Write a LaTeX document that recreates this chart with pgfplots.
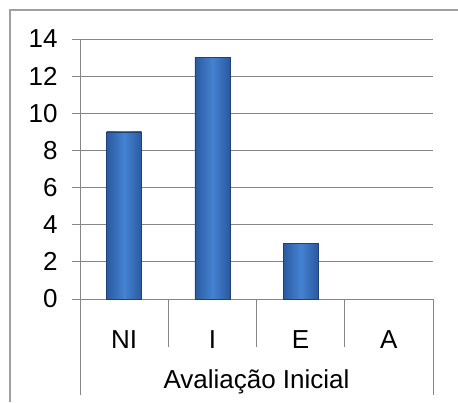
\documentclass[border=0pt]{standalone}
\usepackage{pgfplots}
\pgfplotsset{compat=1.18}
\usepackage{fontspec}
\setmainfont{Liberation Sans}
\definecolor{barmid}{RGB}{68,130,210}
\definecolor{baredge}{RGB}{42,90,160}
\definecolor{barline}{RGB}{30,66,120}
\definecolor{gridc}{RGB}{134,134,134}
\definecolor{framec}{RGB}{160,160,160}
\begin{document}
\begin{tikzpicture}
\useasboundingbox (0,0) rectangle (458pt,402pt);
\draw[framec, line width=1.5pt] (10pt,0pt) -- (10pt,392pt) -- (458pt,392pt);
\begin{axis}[
  at={(80pt,103pt)}, anchor=south west,
  scale only axis, width=353pt, height=260pt,
  xmin=-0.5, xmax=3.5, ymin=0, ymax=14,
  ytick={0,2,...,14},
  xtick={0,1,2,3},
  xticklabels={NI,I,E,A},
  axis x line*=bottom, axis y line*=left,
  axis line style={gridc, line width=1pt, -},
  ymajorgrids, grid style={gridc, line width=1pt},
  tick align=outside, major tick length=8pt,
  ytick style={gridc, line width=1pt},
  xtick style={draw=none},
  /pgf/number format/assume math mode=true,
  ticklabel style={font=\fontsize{26}{30}\selectfont},
  yticklabel style={anchor=east, xshift=-11pt},
  xticklabel style={anchor=base, yshift=-41pt},
  xlabel={Avaliação Inicial},
  xlabel style={font=\fontsize{26}{30}\selectfont, at={(axis description cs:0.5,0)}, anchor=base, yshift=-89pt},
  clip=false,
  barsty/.style={ybar, bar width=35pt, bar shift=0pt, draw=barline, line width=0.6pt,
    left color=baredge, right color=baredge, middle color=barmid},
]
\addplot[barsty] coordinates {(0,9)};
\addplot[barsty] coordinates {(1,13)};
\addplot[barsty] coordinates {(2,3)};
\draw[gridc, line width=1pt] (axis cs:-0.5,0) -- ++(0pt,-96pt);
\draw[gridc, line width=1pt] (axis cs:3.5,0) -- ++(0pt,-96pt);
\draw[gridc, line width=1pt] (axis cs:0.5,0) -- ++(0pt,-48pt);
\draw[gridc, line width=1pt] (axis cs:1.5,0) -- ++(0pt,-48pt);
\draw[gridc, line width=1pt] (axis cs:2.5,0) -- ++(0pt,-48pt);
\end{axis}
\end{tikzpicture}
\end{document}
